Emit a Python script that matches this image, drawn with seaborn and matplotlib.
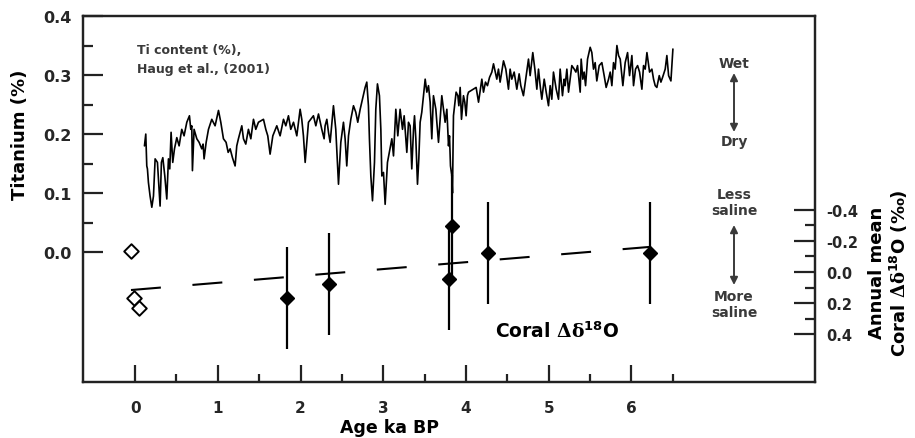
import numpy as np
import pandas as pd
import matplotlib
matplotlib.use("Agg")
import matplotlib.pyplot as plt
from matplotlib.ticker import FixedLocator
import seaborn as sns

# ---------------- data ----------------
ti_age = [0.113, 0.129, 0.141, 0.149, 0.161, 0.181, 0.202, 0.222, 0.242, 0.270,
          0.302, 0.318, 0.335, 0.359, 0.383, 0.403, 0.419, 0.435, 0.455, 0.476,
          0.504, 0.532, 0.564, 0.592, 0.625, 0.657, 0.673, 0.685, 0.693, 0.713,
          0.746, 0.774, 0.806, 0.822, 0.834, 0.859, 0.887, 0.927, 0.967, 1.008,
          1.036, 1.068, 1.100, 1.125, 1.149, 1.177, 1.209, 1.229, 1.249, 1.290,
          1.310, 1.338, 1.370, 1.399, 1.431, 1.459, 1.491, 1.552, 1.580, 1.604,
          1.632, 1.665, 1.713, 1.753, 1.794, 1.822, 1.854, 1.882, 1.915, 1.955,
          1.995, 2.015, 2.035, 2.056, 2.096, 2.156, 2.185, 2.217, 2.257, 2.285,
          2.297, 2.318, 2.338, 2.358, 2.398, 2.426, 2.459, 2.487, 2.519, 2.539,
          2.559, 2.580, 2.608, 2.640, 2.668, 2.692, 2.721, 2.749, 2.781, 2.801,
          2.821, 2.833, 2.850, 2.870, 2.894, 2.910, 2.930, 2.954, 2.971, 2.983,
          3.003, 3.023, 3.051, 3.104, 3.124, 3.152, 3.176, 3.204, 3.233, 3.253,
          3.285, 3.305, 3.325, 3.345, 3.366, 3.378, 3.394, 3.414, 3.430, 3.446,
          3.466, 3.507, 3.527, 3.547, 3.567, 3.587, 3.607, 3.636, 3.648, 3.668,
          3.708, 3.748, 3.769, 3.789, 3.801, 3.813, 3.829, 3.837, 3.849, 3.881,
          3.902, 3.914, 3.930, 3.946, 3.970, 3.986, 4.002, 4.018, 4.031, 4.123,
          4.152, 4.192, 4.212, 4.236, 4.260, 4.285, 4.313, 4.333, 4.373, 4.393,
          4.413, 4.454, 4.482, 4.514, 4.534, 4.554, 4.583, 4.615, 4.643, 4.663,
          4.695, 4.756, 4.776, 4.808, 4.833, 4.857, 4.877, 4.897, 4.917, 4.946,
          4.970, 4.998, 5.018, 5.038, 5.058, 5.091, 5.119, 5.139, 5.167, 5.187,
          5.199, 5.220, 5.240, 5.260, 5.280, 5.309, 5.329, 5.349, 5.381, 5.393,
          5.413, 5.429, 5.446, 5.470, 5.502, 5.522, 5.542, 5.562, 5.582, 5.611,
          5.643, 5.671, 5.695, 5.724, 5.744, 5.764, 5.784, 5.804, 5.825, 5.845,
          5.865, 5.897, 5.925, 5.954, 5.978, 6.006, 6.026, 6.050, 6.075, 6.099,
          6.127, 6.147, 6.167, 6.188, 6.220, 6.248, 6.268, 6.288, 6.308, 6.337,
          6.357, 6.377, 6.409, 6.429, 6.450, 6.478, 6.502]
ti_val = [0.180, 0.200, 0.146, 0.141, 0.118, 0.095, 0.076, 0.095, 0.158, 0.152,
          0.078, 0.152, 0.160, 0.129, 0.090, 0.158, 0.141, 0.203, 0.152, 0.175,
          0.194, 0.180, 0.208, 0.197, 0.220, 0.231, 0.208, 0.214, 0.138, 0.208,
          0.192, 0.186, 0.175, 0.183, 0.158, 0.186, 0.208, 0.225, 0.214, 0.240,
          0.220, 0.192, 0.186, 0.169, 0.175, 0.160, 0.146, 0.180, 0.192, 0.214,
          0.192, 0.183, 0.208, 0.192, 0.225, 0.208, 0.220, 0.225, 0.208, 0.197,
          0.166, 0.197, 0.214, 0.197, 0.225, 0.214, 0.231, 0.208, 0.220, 0.197,
          0.242, 0.225, 0.197, 0.152, 0.220, 0.231, 0.214, 0.234, 0.208, 0.192,
          0.214, 0.225, 0.203, 0.186, 0.248, 0.208, 0.115, 0.186, 0.220, 0.192,
          0.146, 0.197, 0.225, 0.248, 0.237, 0.220, 0.242, 0.259, 0.279, 0.288,
          0.248, 0.192, 0.129, 0.087, 0.152, 0.242, 0.285, 0.265, 0.208, 0.129,
          0.135, 0.081, 0.152, 0.192, 0.163, 0.242, 0.197, 0.242, 0.208, 0.231,
          0.169, 0.220, 0.214, 0.141, 0.208, 0.231, 0.192, 0.115, 0.158, 0.220,
          0.237, 0.293, 0.271, 0.282, 0.254, 0.192, 0.265, 0.242, 0.220, 0.186,
          0.265, 0.220, 0.242, 0.180, 0.197, 0.146, 0.129, 0.100, 0.231, 0.271,
          0.265, 0.248, 0.279, 0.225, 0.265, 0.254, 0.231, 0.265, 0.271, 0.279,
          0.254, 0.293, 0.271, 0.288, 0.282, 0.296, 0.305, 0.319, 0.293, 0.310,
          0.288, 0.324, 0.310, 0.276, 0.310, 0.293, 0.305, 0.276, 0.302, 0.282,
          0.265, 0.327, 0.299, 0.338, 0.310, 0.276, 0.310, 0.282, 0.259, 0.293,
          0.271, 0.248, 0.282, 0.259, 0.305, 0.276, 0.259, 0.310, 0.265, 0.293,
          0.282, 0.310, 0.271, 0.293, 0.316, 0.310, 0.305, 0.316, 0.271, 0.327,
          0.293, 0.305, 0.282, 0.327, 0.347, 0.338, 0.310, 0.321, 0.290, 0.316,
          0.321, 0.299, 0.279, 0.293, 0.305, 0.282, 0.321, 0.310, 0.350, 0.333,
          0.327, 0.282, 0.321, 0.338, 0.299, 0.333, 0.282, 0.310, 0.316, 0.305,
          0.276, 0.316, 0.310, 0.338, 0.305, 0.310, 0.293, 0.282, 0.279, 0.299,
          0.288, 0.296, 0.310, 0.333, 0.299, 0.290, 0.344]

# modern corals (open diamonds), annual mean coral delta-d18O (permil)
modern_age = [-0.05, -0.01, 0.05]
modern_d18o = [-0.135, 0.167, 0.231]

# fossil corals (filled diamonds) with error bars
fossil_age = [1.84, 2.35, 3.80, 3.83, 4.27, 6.22]
fossil_d18o = [0.167, 0.077, 0.045, -0.296, -0.122, -0.122]
fossil_err = [0.325, 0.325, 0.325, 0.325, 0.325, 0.325]

# regression line
reg_age = [-0.05, 6.22]
reg_d18o = [0.116, -0.161]

x_major = [0, 1, 2, 3, 4, 5, 6]
x_minor = [0.5, 1.5, 2.5, 3.5, 4.5, 5.5, 6.5]
ti_major = [0.0, 0.1, 0.2, 0.3, 0.4]
ti_minor = [0.05, 0.15, 0.25, 0.35]
co_major = [-0.4, -0.2, 0.0, 0.2, 0.4]
co_minor = [-0.3, -0.1, 0.1, 0.3]

# ---------------- style ----------------
sns.set_theme(style="ticks")
plt.rcParams["font.family"] = ["DejaVu Sans"]
plt.rcParams["font.weight"] = "bold"
plt.rcParams["lines.scale_dashes"] = False
plt.rcParams["mathtext.fontset"] = "custom"
plt.rcParams["mathtext.rm"] = "DejaVu Serif"
plt.rcParams["mathtext.it"] = "DejaVu Serif:italic"
plt.rcParams["mathtext.bf"] = "DejaVu Sans:bold"

W, H = 915, 439
def fx(x):
    return x / W
def fy(y):
    return 1 - y / H

fig = plt.figure(figsize=(W / 100, H / 100), dpi=100)
ax = fig.add_axes([fx(83), fy(383), (815 - 83) / W, (383 - 17) / H])
ax2 = ax.twinx()

spine_col = "#222222"
for a in (ax, ax2):
    for s in a.spines.values():
        s.set_linewidth(1.6)
        s.set_color(spine_col)
        s.set_visible(True)

# Ti curve
ti_df = pd.DataFrame({"age": ti_age, "ti": ti_val})
sns.lineplot(data=ti_df, x="age", y="ti", ax=ax, color="black", lw=1.2,
             sort=False, estimator=None)

ax.set_xlim(-0.63, 8.22)
ax.set_ylim(-0.22, 0.4)
ax.xaxis.set_major_locator(FixedLocator(x_major))
ax.xaxis.set_minor_locator(FixedLocator(x_minor))
ax.yaxis.set_major_locator(FixedLocator(ti_major))
ax.yaxis.set_minor_locator(FixedLocator(ti_minor))
ax.set_xticklabels([str(v) for v in x_major])
ax.set_yticklabels([f"{v:.1f}" for v in ti_major])
ax.tick_params(axis="y", which="major", direction="in", length=14.5, width=1.6,
               color=spine_col, labelsize=11.5, pad=8, left=True, right=False)
ax.tick_params(axis="y", which="minor", direction="in", length=7.2, width=1.6,
               color=spine_col, left=True, right=False)
ax.tick_params(axis="x", which="major", direction="in", length=12, width=1.6,
               color=spine_col, labelsize=11, pad=13, top=False)
ax.tick_params(axis="x", which="minor", direction="in", length=6, width=1.6,
               color=spine_col, top=False)
for lab in ax.get_xticklabels() + ax.get_yticklabels():
    lab.set_fontweight("bold")
ax.set_xlabel("")
ax.set_ylabel("")

# coral axis
ax2.set_ylim(0.707, -1.645)
ax2.yaxis.set_major_locator(FixedLocator(co_major))
ax2.yaxis.set_minor_locator(FixedLocator(co_minor))
ax2.set_yticklabels([f"{v:.1f}" for v in co_major])
ax2.tick_params(axis="y", which="major", direction="in", length=15, width=1.6,
                color=spine_col, labelsize=10.5, pad=8, right=True, left=False)
ax2.tick_params(axis="y", which="minor", direction="in", length=7.2, width=1.6,
                color=spine_col, right=True, left=False)
for lab in ax2.get_yticklabels():
    lab.set_fontweight("bold")

reg_df = pd.DataFrame({"age": reg_age, "d": reg_d18o})
sns.lineplot(data=reg_df, x="age", y="d", ax=ax2, color="black", lw=1.5,
             dashes=False, estimator=None, sort=False)
ax2.lines[-1].set_dashes((21.6, 22.8))

ax2.errorbar(fossil_age, fossil_d18o, yerr=fossil_err, fmt="D", color="black",
             ms=7.5, elinewidth=1.6, capsize=0, zorder=4)
mod_df = pd.DataFrame({"age": modern_age, "d": modern_d18o})
sns.scatterplot(data=mod_df, x="age", y="d", ax=ax2, marker="D", s=55,
                facecolor="white", edgecolor="black", linewidth=1.4, zorder=5)
ax2.set_xlabel("")
ax2.set_ylabel("")

# ---------------- text ----------------
txt_col = "#3a3a3a"
fig.text(fx(137), fy(50), "Ti content (%),", ha="left", va="center",
         fontsize=9, fontweight="bold", color=txt_col)
fig.text(fx(137), fy(70), "Haug et al., (2001)", ha="left", va="center",
         fontsize=9, fontweight="bold", color=txt_col)

fig.text(fx(734), fy(64), "Wet", ha="center", va="center", fontsize=10,
         fontweight="bold", color=txt_col)
fig.text(fx(734), fy(142), "Dry", ha="center", va="center", fontsize=10,
         fontweight="bold", color=txt_col)
fig.text(fx(734), fy(203), "Less\nsaline", ha="center", va="center",
         fontsize=10, fontweight="bold", color=txt_col, linespacing=1.2)
fig.text(fx(734), fy(305), "More\nsaline", ha="center", va="center",
         fontsize=10, fontweight="bold", color=txt_col, linespacing=1.2)

arrow_kw = dict(arrowstyle="<|-|>", color=txt_col, lw=1.4, mutation_scale=11,
                shrinkA=0, shrinkB=0)
ax.annotate("", xy=(fx(734), fy(74)), xytext=(fx(734), fy(133)),
            xycoords="figure fraction", textcoords="figure fraction",
            arrowprops=arrow_kw)
ax.annotate("", xy=(fx(734), fy(226)), xytext=(fx(734), fy(286)),
            xycoords="figure fraction", textcoords="figure fraction",
            arrowprops=arrow_kw)

fig.text(fx(495), fy(332), r"Coral $\mathrm{\Delta\delta}^{\mathbf{18}}$O",
         ha="left", va="center", fontsize=13.5, fontweight="bold", color="black")

fig.text(fx(20), fy(135), "Titanium (%)", rotation=90, ha="center",
         va="center", fontsize=13, fontweight="bold", color="black")
fig.text(fx(390), fy(428), "Age ka BP", ha="center", va="center",
         fontsize=12.5, fontweight="bold", color="black")
fig.text(fx(889), fy(273),
         "Annual mean\n" + r"Coral $\mathrm{\Delta\delta}^{\mathbf{18}}$O (‰)",
         rotation=90, ha="center", va="center", fontsize=13,
         fontweight="bold", color="black", linespacing=1.05, multialignment="center")

fig.savefig("out.png", dpi=100)
